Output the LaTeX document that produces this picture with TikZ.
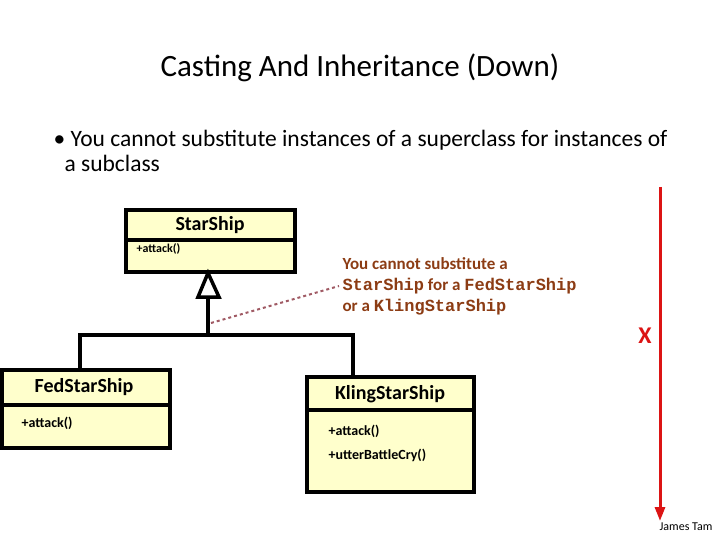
\documentclass[tikz,border=0pt]{standalone}
\usepackage{fontspec}
\setmainfont{Carlito}
\newfontfamily\codefont{Liberation Mono}
\usetikzlibrary{arrows.meta}
\definecolor{boxfill}{RGB}{255,255,204}
\definecolor{notecol}{RGB}{140,60,20}
\definecolor{dashcol}{RGB}{160,90,100}
\definecolor{arrowred}{RGB}{220,20,20}
\tikzset{
  classbox/.style = {draw, line width=3.5pt, fill=boxfill},
  umlline/.style = {line width=3.5pt},
}
\begin{document}
\begin{tikzpicture}[x=1pt,y=-1pt]
\useasboundingbox (0,0) rectangle (720,540);
\node at (360,68) [font=\fontsize{31}{36}\selectfont](title){Casting And Inheritance (Down)};
\node at (50,140) [anchor=west,font=\fontsize{23.5}{28}\selectfont](b1){\textbullet\ You cannot substitute instances of a superclass for instances of};
\node at (61,163) [anchor=west,font=\fontsize{23.5}{28}\selectfont](b2){a subclass};
% superclass
\draw[classbox] (126,210) rectangle (295,272);
\draw[umlline] (126,240) -- (295,240);
\node at (210,225) [font=\fontsize{20}{24}\selectfont\bfseries](S){StarShip};
\node at (133,249) [anchor=west,font=\fontsize{12}{14}\selectfont\bfseries](Sa){+attack()};
% subclasses
\draw[classbox] (2,370) rectangle (170,448);
\draw[umlline] (2,405) -- (170,405);
\node at (84,387) [font=\fontsize{20}{24}\selectfont\bfseries](F){FedStarShip};
\node at (18,423) [anchor=west,font=\fontsize{14}{16}\selectfont\bfseries](Fa){+attack()};
\draw[classbox] (307,377) rectangle (474,492);
\draw[umlline] (307,410) -- (474,410);
\node at (390,394) [font=\fontsize{20}{24}\selectfont\bfseries](K){KlingStarShip};
\node at (325,431) [anchor=west,font=\fontsize{14}{16}\selectfont\bfseries](Ka){+attack()};
\node at (325,455) [anchor=west,font=\fontsize{14}{16}\selectfont\bfseries](Kb){+utterBattleCry()};
% inheritance
\coordinate (apex) at (208,273);
\coordinate (base) at (208,297);
\coordinate (join) at (208,335);
\coordinate (fedtop) at (80,370);
\coordinate (klingtop) at (353,377);
\draw[umlline, fill=white] (apex) -- (198,297) -- (219,297) -- cycle;
\draw[umlline] (base) -- (join);
\draw[umlline] (fedtop) |- (klingtop |- join) -- (klingtop);
% note
\node at (339,286) [anchor=west,align=left,text=notecol,font=\fontsize{17}{21}\selectfont\bfseries](note){You cannot substitute a\\{\codefont StarShip} for a {\codefont FedStarShip}\\or a {\codefont KlingStarShip}};
\coordinate (noteend) at (211,323);
\draw[dashcol, dashed, line width=2pt] (noteend) -- (note.west);
% direction
\coordinate (top) at (660,187);
\coordinate (bottom) at (660,521);
\draw[arrowred, line width=3pt, -{Triangle[length=14pt,width=10pt]}] (top) -- (bottom);
\node at (645,336) [text=arrowred,font=\fontsize{24}{28}\selectfont\bfseries](X){X};
\node at (686,527) [font=\fontsize{12}{14}\selectfont](credit){James Tam};
\end{tikzpicture}
\end{document}
